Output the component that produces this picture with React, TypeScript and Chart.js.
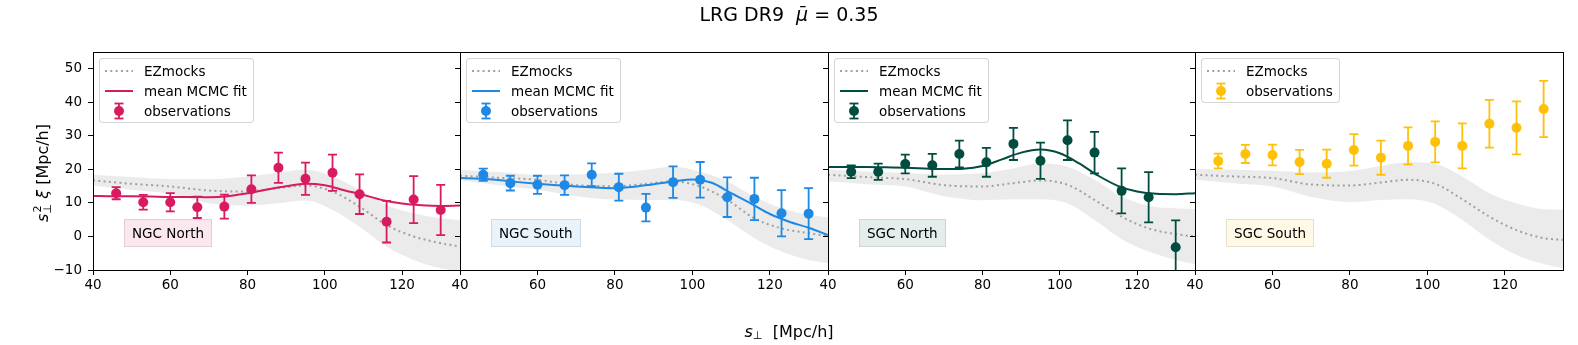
import React, { useEffect, useRef } from 'react';
import { Chart, registerables } from 'chart.js';

Chart.register(...registerables);

// ---------------- data ----------------
const xTicks = [40, 60, 80, 100, 120];
const yTicks = [-10, 0, 10, 20, 30, 40, 50];

const xObs = [46, 53, 60, 67, 74, 81, 88, 95, 102, 109, 116, 123, 130];
const fitX = [40, 45, 50, 55, 60, 65, 70, 75, 80, 85, 90, 95, 100, 105, 110, 115, 120, 125, 130, 135];
const mockX = [40, 50, 60, 70, 80, 88, 95, 102, 109, 116, 123, 130, 135];

const ngcNorthObs = [12.9, 10.2, 10.2, 8.7, 8.9, 14.1, 20.5, 17.2, 19.0, 12.6, 4.4, 11.0, 7.9];
const ngcNorthErr = [1.8, 2.2, 2.7, 3.2, 3.6, 4.1, 4.5, 4.8, 5.4, 5.9, 6.2, 7.0, 7.5];
const ngcNorthFit = [12.1, 12.0, 12.0, 11.9, 11.8, 11.8, 11.7, 12.0, 12.9, 14.0, 15.0, 15.7, 15.3, 13.8, 12.4, 10.8, 9.8, 9.3, 9.1, 9.2];
const ngcNorthMock = [16.7, 15.7, 14.9, 13.7, 13.4, 14.4, 15.2, 13.4, 8.9, 3.4, 0.0, -2.0, -3.0];
const ngcNorthMockHigh = [18.4, 17.7, 17.1, 17.1, 17.9, 19.0, 19.9, 17.9, 13.9, 9.4, 6.9, 5.4, 4.9];
const ngcNorthMockLow = [15.1, 13.9, 12.7, 9.9, 9.2, 9.9, 10.7, 7.9, 2.9, -3.0, -7.0, -9.5, -10.3];

const ngcSouthObs = [18.4, 15.9, 15.4, 15.3, 18.4, 14.7, 8.6, 16.2, 16.9, 11.7, 11.2, 6.9, 6.8];
const ngcSouthErr = [1.8, 2.2, 2.7, 2.9, 3.4, 4.0, 4.1, 4.7, 5.3, 5.9, 6.3, 6.9, 7.6];
const ngcSouthFit = [17.4, 17.2, 16.8, 16.2, 15.7, 15.3, 14.9, 14.6, 14.4, 14.8, 15.6, 16.4, 17.0, 16.0, 12.9, 9.9, 6.7, 4.4, 2.6, 0.4];
const ngcSouthMock = [18.1, 17.5, 16.9, 15.3, 15.0, 15.7, 16.4, 14.9, 10.9, 5.4, 2.4, 1.0, 0.1];
const ngcSouthMockHigh = [19.9, 19.2, 18.4, 18.5, 19.0, 19.9, 20.8, 19.3, 16.4, 11.9, 8.4, 6.4, 5.7];
const ngcSouthMockLow = [16.7, 15.3, 13.9, 12.0, 11.0, 10.9, 10.9, 9.4, 4.9, -0.5, -4.5, -7.0, -8.0];

const sgcNorthObs = [19.3, 19.3, 21.6, 21.2, 24.6, 22.1, 27.6, 22.6, 28.7, 25.0, 13.6, 11.7, -3.2];
const sgcNorthErr = [1.9, 2.4, 2.8, 3.4, 4.0, 4.3, 4.8, 5.4, 5.9, 6.2, 6.7, 7.5, 8.0];
const sgcNorthFit = [20.7, 20.7, 20.7, 20.6, 20.5, 20.3, 20.1, 20.2, 21.0, 23.0, 25.0, 25.9, 24.8, 21.8, 18.1, 15.1, 13.4, 12.7, 12.6, 12.9];
const sgcNorthMock = [18.4, 17.7, 17.1, 15.3, 14.9, 15.9, 16.7, 15.4, 10.9, 5.9, 2.4, 0.7, 0.0];
const sgcNorthMockHigh = [19.9, 19.4, 18.9, 18.4, 18.9, 20.3, 21.8, 20.8, 16.9, 11.9, 9.1, 8.4, 8.2];
const sgcNorthMockLow = [16.4, 15.6, 14.9, 12.0, 10.8, 11.1, 11.1, 9.9, 4.9, -0.8, -4.5, -7.0, -8.2];

const sgcSouthObs = [22.5, 24.6, 24.3, 22.2, 21.7, 25.8, 23.5, 27.0, 28.2, 27.0, 33.6, 32.4, 38.0];
const sgcSouthErr = [2.2, 2.7, 3.1, 3.6, 4.2, 4.7, 5.1, 5.5, 6.1, 6.7, 7.1, 7.9, 8.4];
const sgcSouthMock = [18.4, 17.9, 17.4, 15.5, 15.2, 16.1, 16.9, 15.7, 11.1, 5.9, 1.9, -0.5, -1.0];
const sgcSouthMockHigh = [20.1, 19.9, 19.6, 19.1, 19.5, 21.0, 22.1, 21.6, 17.9, 12.9, 9.9, 8.1, 8.0];
const sgcSouthMockLow = [16.9, 15.9, 14.9, 11.8, 10.3, 10.9, 11.1, 9.7, 4.9, -1.0, -5.5, -8.2, -9.5];

const panelNames = ['NGC North', 'NGC South', 'SGC North', 'SGC South'];
const panelColors = ['#D81B60', '#1E88E5', '#004D40', '#FFC107'];

const panels = [
  { name: panelNames[0], color: panelColors[0], obs: ngcNorthObs, err: ngcNorthErr, fit: ngcNorthFit, mock: ngcNorthMock, high: ngcNorthMockHigh, low: ngcNorthMockLow },
  { name: panelNames[1], color: panelColors[1], obs: ngcSouthObs, err: ngcSouthErr, fit: ngcSouthFit, mock: ngcSouthMock, high: ngcSouthMockHigh, low: ngcSouthMockLow },
  { name: panelNames[2], color: panelColors[2], obs: sgcNorthObs, err: sgcNorthErr, fit: sgcNorthFit, mock: sgcNorthMock, high: sgcNorthMockHigh, low: sgcNorthMockLow },
  { name: panelNames[3], color: panelColors[3], obs: sgcSouthObs, err: sgcSouthErr, fit: null as number[] | null, mock: sgcSouthMock, high: sgcSouthMockHigh, low: sgcSouthMockLow },
];

// ---------------- layout ----------------
const W = 1578;
const H = 345;
const FONT = "'DejaVu Sans', sans-serif";
const EDGES = [93, 460, 828, 1195, 1563];
const AREA_TOP = 52;
const AREA_BOTTOM = 270;
const Y_AXIS_W = 40;
const X_AXIS_H = 30;
const MOCK_COLOR = '#a0a0a0';
const BAND_COLOR = 'rgba(128,128,128,0.16)';

const toPts = (xs: number[], ys: number[]) => xs.map((x, i) => ({ x, y: ys[i] }));

const hexToRgba = (hex: string, a: number) => {
  const n = parseInt(hex.slice(1), 16);
  return `rgba(${(n >> 16) & 255},${(n >> 8) & 255},${n & 255},${a})`;
};

const fmtTick = (v: number | string) => String(v).replace('-', '\u2212');

const errorBarPlugin = {
  id: 'errorBars',
  beforeDatasetDraw(chart: any, args: any, opts: any) {
    if (args.index !== opts.datasetIndex) return;
    const { ctx, chartArea, scales } = chart;
    const ds = chart.data.datasets[args.index];
    const cap = 4.5;
    ctx.save();
    ctx.beginPath();
    ctx.rect(chartArea.left, chartArea.top, chartArea.right - chartArea.left, chartArea.bottom - chartArea.top);
    ctx.clip();
    ctx.strokeStyle = opts.color;
    ctx.lineWidth = 1.8;
    ds.data.forEach((pt: any, i: number) => {
      const e = opts.errors[i];
      const px = scales.x.getPixelForValue(pt.x);
      const y1 = scales.y.getPixelForValue(pt.y - e);
      const y2 = scales.y.getPixelForValue(pt.y + e);
      ctx.beginPath();
      ctx.moveTo(px, y1);
      ctx.lineTo(px, y2);
      ctx.moveTo(px - cap, y1);
      ctx.lineTo(px + cap, y1);
      ctx.moveTo(px - cap, y2);
      ctx.lineTo(px + cap, y2);
      ctx.stroke();
    });
    ctx.restore();
  },
};

const framePlugin = {
  id: 'frame',
  afterDatasetsDraw(chart: any) {
    const { ctx, chartArea } = chart;
    ctx.save();
    ctx.strokeStyle = '#000';
    ctx.lineWidth = 1;
    const l = Math.round(chartArea.left) + 0.5;
    const t = Math.round(chartArea.top) + 0.5;
    const r = Math.round(chartArea.right) + 0.5;
    const b = Math.round(chartArea.bottom) + 0.5;
    ctx.strokeRect(l, t, r - l, b - t);
    ctx.restore();
  },
};

function PanelChart({ idx }: { idx: number }) {
  const ref = useRef<HTMLCanvasElement | null>(null);
  useEffect(() => {
    const p = panels[idx];
    const left = EDGES[idx];
    const right = EDGES[idx + 1];
    const datasets: any[] = [];
    datasets.push({
      label: 'observations',
      data: toPts(xObs, p.obs),
      showLine: false,
      pointRadius: 5,
      pointHoverRadius: 5,
      pointBackgroundColor: p.color,
      pointBorderColor: p.color,
      pointBorderWidth: 0,
      borderColor: p.color,
      backgroundColor: p.color,
    });
    if (p.fit) {
      datasets.push({
        label: 'mean MCMC fit',
        data: toPts(fitX, p.fit),
        borderColor: p.color,
        borderWidth: 2,
        pointRadius: 0,
        cubicInterpolationMode: 'monotone',
        fill: false,
      });
    }
    datasets.push({
      label: 'EZmocks',
      data: toPts(mockX, p.mock),
      borderColor: MOCK_COLOR,
      borderWidth: 2,
      borderDash: [2, 3.3],
      pointRadius: 0,
      cubicInterpolationMode: 'monotone',
      fill: false,
    });
    datasets.push({
      label: 'EZmocks upper',
      data: toPts(mockX, p.high),
      borderColor: 'rgba(0,0,0,0)',
      borderWidth: 1,
      pointRadius: 0,
      cubicInterpolationMode: 'monotone',
      fill: '+1',
      backgroundColor: BAND_COLOR,
    });
    datasets.push({
      label: 'EZmocks lower',
      data: toPts(mockX, p.low),
      borderColor: 'rgba(0,0,0,0)',
      borderWidth: 1,
      pointRadius: 0,
      cubicInterpolationMode: 'monotone',
      fill: false,
    });

    const chart = new Chart(ref.current as HTMLCanvasElement, {
      type: 'line',
      data: { datasets },
      options: {
        animation: false,
        responsive: false,
        maintainAspectRatio: false,
        devicePixelRatio: 1,
        events: [],
        layout: {
          padding: {
            left: left - Y_AXIS_W,
            right: W - right,
            top: AREA_TOP,
            bottom: H - AREA_BOTTOM - X_AXIS_H,
          },
        },
        plugins: {
          legend: { display: false },
          tooltip: { enabled: false },
          title: { display: false },
          errorBars: { datasetIndex: 0, errors: p.err, color: p.color },
        } as any,
        scales: {
          x: {
            type: 'linear',
            min: 40,
            max: 135,
            afterBuildTicks: (s: any) => {
              s.ticks = xTicks.map((v) => ({ value: v }));
            },
            afterFit: (s: any) => {
              s.height = X_AXIS_H;
            },
            grid: { display: true, drawOnChartArea: false, drawTicks: true, tickLength: 5, color: '#000', lineWidth: 1 },
            border: { display: false },
            ticks: { color: '#000', font: { family: FONT, size: 13.5 }, padding: 2, maxRotation: 0, autoSkip: false, callback: (v: any) => fmtTick(v) },
          },
          y: {
            type: 'linear',
            min: -10,
            max: 55,
            afterBuildTicks: (s: any) => {
              s.ticks = yTicks.map((v) => ({ value: v }));
            },
            afterFit: (s: any) => {
              s.width = Y_AXIS_W;
            },
            grid: { display: true, drawOnChartArea: false, drawTicks: true, tickLength: 5, color: '#000', lineWidth: 1 },
            border: { display: false },
            ticks: { display: idx === 0, color: '#000', font: { family: FONT, size: 13.5 }, padding: 6, autoSkip: false, callback: (v: any) => fmtTick(v) },
          },
        },
      } as any,
      plugins: [errorBarPlugin, framePlugin],
    });
    return () => chart.destroy();
  }, [idx]);
  return (
    <canvas
      ref={ref}
      width={W}
      height={H}
      style={{ position: 'absolute', left: 0, top: 0, width: W, height: H }}
    />
  );
}

function LegendRow({ kind, color, text }: { kind: string; color: string; text: string }) {
  let handle: React.ReactNode = null;
  if (kind === 'mock') {
    handle = <line x1={0} y1={10} x2={28} y2={10} stroke={MOCK_COLOR} strokeWidth={2} strokeDasharray="2 3.3" />;
  } else if (kind === 'fit') {
    handle = <line x1={0} y1={10} x2={28} y2={10} stroke={color} strokeWidth={2} />;
  } else {
    handle = (
      <g stroke={color} strokeWidth={1.8}>
        <line x1={14} y1={2.5} x2={14} y2={17.5} />
        <line x1={9.5} y1={2.5} x2={18.5} y2={2.5} />
        <line x1={9.5} y1={17.5} x2={18.5} y2={17.5} />
        <circle cx={14} cy={10} r={5} fill={color} stroke="none" />
      </g>
    );
  }
  return (
    <div style={{ display: 'flex', alignItems: 'center', height: 20 }}>
      <svg width={28} height={20} style={{ marginRight: 11, flex: 'none', display: 'block' }}>
        {handle}
      </svg>
      <span>{text}</span>
    </div>
  );
}

function Legend({ idx }: { idx: number }) {
  const p = panels[idx];
  return (
    <div
      style={{
        position: 'absolute',
        left: EDGES[idx] + 6,
        top: 58,
        border: '1px solid rgba(204,204,204,0.8)',
        borderRadius: 4,
        background: 'rgba(255,255,255,0.8)',
        padding: '2px 6px 1px 5px',
        fontFamily: FONT,
        fontSize: 13.5,
        lineHeight: '20px',
        color: '#000',
        whiteSpace: 'nowrap',
      }}
    >
      <LegendRow kind="mock" color={p.color} text="EZmocks" />
      {p.fit ? <LegendRow kind="fit" color={p.color} text="mean MCMC fit" /> : null}
      <LegendRow kind="obs" color={p.color} text="observations" />
    </div>
  );
}

function PanelLabel({ idx }: { idx: number }) {
  const p = panels[idx];
  return (
    <div
      style={{
        position: 'absolute',
        left: EDGES[idx] + 31,
        top: 219,
        height: 26,
        lineHeight: '26px',
        padding: '0 7px',
        border: '1px solid rgba(0,0,0,0.1)',
        background: hexToRgba(p.color, 0.1),
        fontFamily: FONT,
        fontSize: 13.5,
        color: '#000',
        whiteSpace: 'nowrap',
      }}
    >
      {p.name}
    </div>
  );
}

export default function App() {
  return (
    <div style={{ position: 'absolute', left: 0, top: 0, width: W, height: H, background: '#fff', overflow: 'hidden' }}>
      {panels.map((_, i) => (
        <PanelChart key={'c' + i} idx={i} />
      ))}
      {panels.map((_, i) => (
        <Legend key={'l' + i} idx={i} />
      ))}
      {panels.map((_, i) => (
        <PanelLabel key={'p' + i} idx={i} />
      ))}
      <div
        style={{
          position: 'absolute',
          left: 0,
          top: 4.6,
          width: W,
          textAlign: 'center',
          fontFamily: FONT,
          fontSize: 19,
          lineHeight: 1,
          color: '#000',
          whiteSpace: 'pre',
        }}
      >
        {'LRG DR9  '}
        <span style={{ fontStyle: 'italic' }}>{'\u03BC\u0304'}</span>
        {' = 0.35'}
      </div>
      <div
        style={{
          position: 'absolute',
          left: 0,
          top: 323.5,
          width: W,
          textAlign: 'center',
          fontFamily: FONT,
          fontSize: 16,
          lineHeight: 1,
          color: '#000',
          whiteSpace: 'pre',
        }}
      >
        <span style={{ fontStyle: 'italic' }}>s</span>
        <span style={{ fontSize: '0.7em', position: 'relative', top: '0.2em' }}>{'\u22A5'}</span>
        {'  [Mpc/h]'}
      </div>
      <div
        style={{
          position: 'absolute',
          left: 43 - 100,
          top: 172.5 - 8,
          width: 200,
          height: 16,
          textAlign: 'center',
          fontFamily: FONT,
          fontSize: 16,
          lineHeight: 1,
          color: '#000',
          whiteSpace: 'pre',
          transform: 'rotate(-90deg)',
          transformOrigin: '50% 50%',
        }}
      >
        <span style={{ fontStyle: 'italic' }}>s</span>
        <span style={{ fontSize: '0.7em', position: 'relative', top: '-0.6em', display: 'inline-block', width: 0, left: '0.1em' }}>2</span>
        <span style={{ fontSize: '0.7em', position: 'relative', top: '0.3em' }}>{'\u22A5'}</span>
        {' '}
        <span style={{ fontStyle: 'italic' }}>{'\u03BE'}</span>
        {' [Mpc/h]'}
      </div>
    </div>
  );
}
